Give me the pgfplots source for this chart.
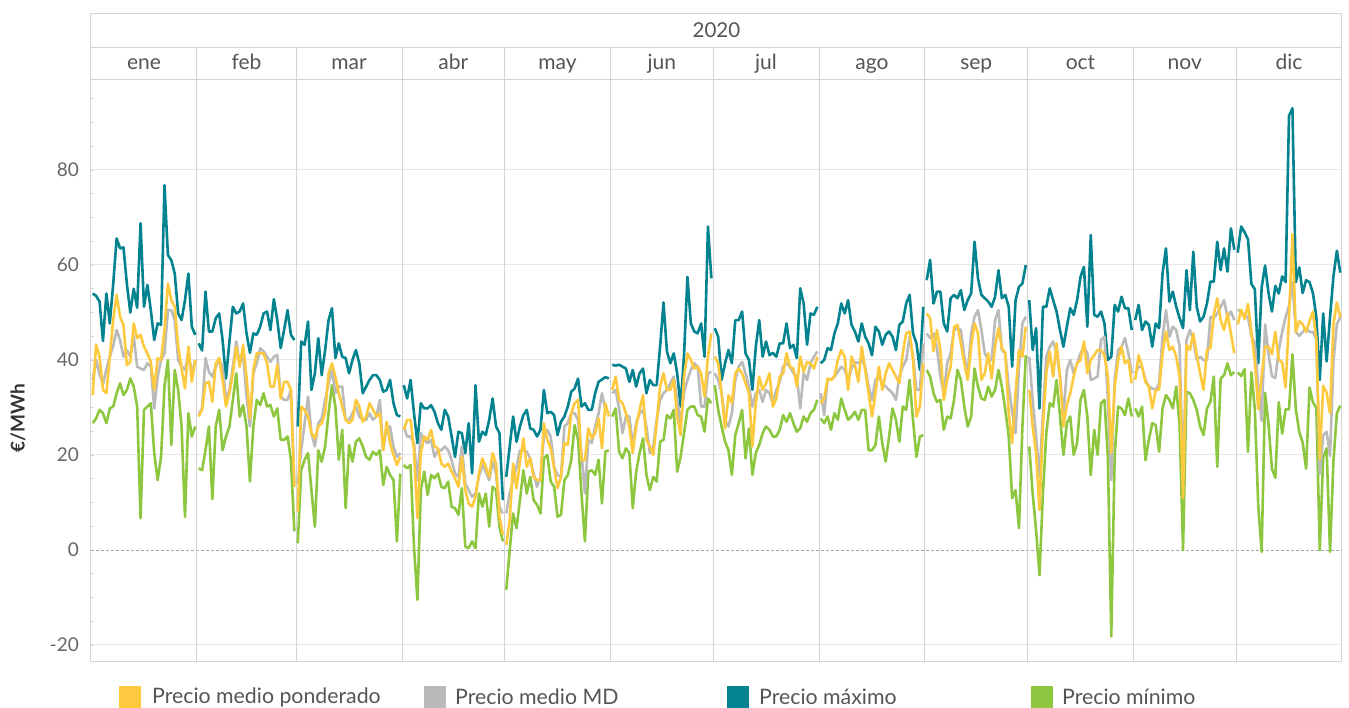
\documentclass[border=0pt]{standalone}
\usepackage{pgfplots}
\pgfplotsset{compat=1.18}
\usepackage{pgfplotstable}
\usepackage{fontspec}
\setmainfont{Lato}
\definecolor{pondCol}{HTML}{FDC93F}
\definecolor{mdCol}{HTML}{BABABA}
\definecolor{maxCol}{HTML}{03838F}
\definecolor{minCol}{HTML}{8DC63F}
\definecolor{frameCol}{HTML}{D4D4D4}
\definecolor{gridCol}{HTML}{E8E8E8}
\definecolor{labCol}{HTML}{666666}
\definecolor{headCol}{HTML}{555555}

\pgfplotstableread{
d pond md pmax pmin
1 32.6 35.8 54 26.7
2 43.2 40 53.5 27.7
3 40.7 37 52.3 29.5
4 33.7 35 44 28.8
5 33 38 54 26.7
6 40.7 40.7 47.7 29.8
7 48.4 43 56 30.2
8 53.7 46.3 65.6 33
9 49.1 44.2 63.5 35.1
10 47.4 40.7 63.7 32.6
11 38.9 42.1 56 33.7
12 39.6 40.7 50 36.1
13 47.7 45 55 34.4
14 44.6 38.6 51 30.2
15 45.3 38.2 68.8 6.7
16 42.8 37.9 51.2 29.5
17 41.4 39.3 55.8 30.2
18 39.6 38.6 50.5 30.9
19 33.7 29.8 44.2 20.4
20 40.4 36.5 47.7 14.7
21 40 40 47.4 19.6
22 46.3 41.4 76.8 34.4
23 56.1 50.5 62.1 40
24 52.6 50.5 61 22.1
25 51.2 48.4 58.2 37.9
26 42.8 40 49.8 33.7
27 38.2 38.6 48.4 26
28 34 37.9 52.6 7
29 42.8 41.4 58.2 28.8
30 35.4 37.2 47 23.9
31 40 40 45.3 26
31.5 nan nan nan nan
32 28.1 28.5 43.5 17.2
33 29.5 29.8 42 16.8
34 35.1 40.4 54.4 21
35 35.4 37.5 46 26
36 31.2 36.5 46 10.7
37 39.3 38.6 48.8 26
38 40.4 40 49.8 29.5
39 35.8 38.6 44.2 21
40 30.2 31.6 36.1 23.9
41 33 33.7 43.9 26
42 37.2 38.6 51.2 31.6
43 42.8 43.9 49.8 37.2
44 38.6 39.3 50.2 28.1
45 43.2 41.4 51.9 30.5
46 36.5 32.3 45.6 26
47 27.7 26 41.5 14.4
48 37.9 37.2 45.6 26
49 41.4 39.3 45.3 31.6
50 41.4 42.5 47 30.5
51 41.4 41.8 49.8 33
52 39.3 40.7 50.2 30.2
53 34.4 39.6 46.3 30.5
54 34.4 40.7 52.8 28.1
55 39 41.1 48.4 29.8
56 31.9 32.3 42.5 23.2
57 35.4 31.6 46.3 23.2
58 35.4 31.6 50.5 23.9
59 33.7 33.7 45.3 19
60 13.3 14 44.2 3.9
60.5 nan nan nan nan
61 8.1 14 26 1.4
62 30.2 21 43.9 16.8
63 29.5 26.7 43.2 19
64 28.1 32.3 48.1 20.4
65 24.6 24.6 33.7 12.6
66 23.5 21.8 37.2 4.9
67 26 26.7 44.6 21
68 26.7 27.7 36.8 18.6
69 28.8 31.6 42.1 21.8
70 37.2 35.1 48.4 28.8
71 39.3 37.9 50.9 34.7
72 36.5 33 40.4 30.2
73 33 34.4 43.5 19
74 30.2 34.4 40.7 25.3
75 27.4 27.4 40.4 8.8
76 26.7 27.4 37.2 22.1
77 27.4 28.8 40 18.6
78 31.6 30.2 42.1 22.8
79 30.2 28.1 39.3 23.5
80 27 27.4 33 21.8
81 28.1 27.4 34.4 19.6
82 30.9 28.8 35.8 19
83 29.5 27.4 36.8 20.7
84 28.1 28.1 36.8 20
85 28.8 31.6 35.8 21
86 21 21 33.3 13.7
87 27 26 33.7 17.5
88 22.5 26 35.8 15.8
89 20 21.8 30.9 14.7
90 17.9 19.6 28.4 1.8
91 19.6 20.4 28.1 16.1
91.5 nan nan nan nan
92 25.3 25.9 34.7 17.9
93 27.4 23.9 31.9 17.2
94 27.4 23.9 35.8 17.9
95 21 22.5 28.8 0.7
96 6.7 14.7 22.5 -10.5
97 20.4 24.6 30.9 12.6
98 23.9 23.2 29.8 16.5
99 23.2 22.5 29.8 11.6
100 25.3 23.2 30.5 15.8
101 21.8 19.6 29.1 15.1
102 21.4 21 26.7 16.1
103 18.2 21 25.3 13.3
104 17.5 21.8 29.5 13
105 18.2 21 28.1 14.4
106 16.5 18.9 23.9 9.1
107 15.1 16.1 19.6 8.8
108 13.3 15.4 24.9 7.4
109 19.6 21.8 24.6 13
110 12.6 14 20.4 0.7
111 9.8 12.6 26.7 0.4
112 9.1 11.2 16.1 1.8
113 11.2 11.9 34.7 0.4
114 16.1 15.4 22.8 11.9
115 19.3 17.9 24.9 9.1
116 17.5 16.5 24.2 11.9
117 15.4 14.7 27.4 4.9
118 20.4 18.6 31.9 13.3
119 18.2 16.1 26 12.6
120 7 9.1 24.6 4.9
121 3.2 7.7 10.5 1.8
121.5 nan nan nan nan
122 1.1 7.7 15.4 -8.4
123 6.3 11.9 21.8 0
124 18.2 14.7 28.1 7.7
125 13 17.5 22.8 4.6
126 18.6 21 26 10.5
127 23.5 21 28.4 16.8
128 17.5 20.7 29.5 11.9
129 19.3 19.3 25.6 15.4
130 15.4 16.1 25.3 10.5
131 14.7 13.3 23.9 9.5
132 14.7 15.4 25.3 7.7
133 26.7 23.9 33.7 19.3
134 23.2 25.3 28.8 20
135 21.4 23.9 29.1 14.4
136 17.2 17.5 28.4 13.3
137 13 15.8 24.2 7
138 15.4 15.4 27 7.4
139 22.5 26 28.1 14.7
140 22.1 26.7 30.2 15.8
141 28.8 28.8 33.3 18.9
142 30.9 28.8 34 26.3
143 31.6 27.4 36.1 23.2
144 18.9 20.4 30.2 11.9
145 18.9 11.9 30.9 1.8
146 25.6 23.2 29.5 16.5
147 23.5 22.5 29.5 16.8
148 24.6 26 33 15.8
149 27.7 28.8 35.4 19
150 21.4 33 35.9 9.8
151 30.9 29.5 36.4 20.7
152 28.1 28.8 36.1 21
152.5 nan nan nan nan
153 33.7 33 39 28.1
154 36.5 33.7 38.8 29.8
155 31.6 29.8 39 20.7
156 30.9 24.6 38.6 19.3
157 28.8 28.1 38.2 21.4
158 26 28.1 35.4 20.4
159 20.4 22.1 37.9 8.8
160 26 26.7 34.4 16.5
161 29.5 28.8 37.2 20.4
162 32.6 29.5 38.2 23.5
163 23.2 26 33 15.8
164 21.8 20.4 35.8 12.6
165 20 21.8 34.7 15.4
166 26.7 27.4 34.7 14.4
167 34.4 31.6 42.8 22.8
168 37.2 33 52.1 23.2
169 33.7 33.7 41.8 28.4
170 33.7 35.1 39.3 27.7
171 35.8 36.5 41.4 29.5
172 28.1 31.6 37.2 16.5
173 24.2 26.7 30.2 19.6
174 36.5 33 41 24.6
175 41.4 35.8 57.5 29.5
176 40 37.9 47.7 30.2
177 38.2 39.3 46 30.2
178 38.6 38.6 45.6 28.4
179 37.2 30.2 47.7 28.1
180 32.3 30.2 40.7 24.9
181 40.7 37.2 68.1 31.9
182 45.6 37.5 57.2 30.9
182.5 nan nan nan nan
183 40.7 37.2 46.7 34.7
184 39.3 35.8 44.9 29.5
185 33 33 35.8 26
186 25.6 27.4 39.3 22.8
187 32.6 26 42.1 21
188 30.9 28.8 39.3 15.8
189 37.2 35.8 48.4 24.2
190 38.2 38.6 48.4 26.7
191 37.2 39.6 50.2 29.5
192 35.1 37.2 41.4 19.3
193 33 34.4 40 25.6
194 21.8 30.2 33.7 15.8
195 30.9 33 42.8 20.4
196 36.5 33.7 48.4 22.1
197 33.7 31.2 40.7 24.6
198 35.1 33.7 43.9 26
199 37.2 33 41 25.3
200 30.2 30.9 41.5 23.9
201 31.9 33.7 40.7 23.9
202 36.5 35.4 43.5 25.3
203 37.2 38.6 43.5 28.4
204 41.4 39.3 47.7 27
205 38.6 38.6 42.5 28.8
206 38.2 37.2 43.2 26.7
207 34.4 36.5 40.4 24.9
208 40.7 29.8 55.1 25.6
209 37.5 37.2 51.9 28.1
210 39.6 35.8 43.2 27
211 39.3 39.3 49.8 28.8
212 38.2 40.7 49.5 29.5
213 40.7 41.8 51.2 31.6
213.5 nan nan nan nan
214 30.9 33 39.3 27.7
215 31.9 28.4 40 26.7
216 36.1 35.8 42.5 28.1
217 35.8 35.8 42.1 25.3
218 36.5 36.5 45.6 28.8
219 40 37.5 47.7 27.4
220 42.1 38.6 51.9 31.9
221 40.7 37.9 49.8 29.5
222 33.7 35.8 52.6 27.4
223 40.7 38.2 47.4 28.1
224 38.9 39.6 46 29.1
225 35.4 39.3 43.9 27.4
226 42.8 40 47.7 29.5
227 37.9 38.6 44.9 29.5
228 33 34.4 43.5 21
229 28.1 31.6 41 21
230 33 35.8 47 22.1
231 38.6 36.5 46 28.1
232 33.7 35.1 43.2 22.5
233 37.2 34.4 45.3 18.6
234 39.3 33.7 46 23.9
235 37.9 33 44.9 29.8
236 36.5 31.6 42.1 27.4
237 35.1 36.5 47.4 22.8
238 41.4 38.6 48.1 30.2
239 45.6 40 51.9 29.5
240 46 44.9 53.7 35.8
241 40 40.7 45.6 27.4
242 28.1 33.7 43.5 19.6
243 30.2 33.7 37.9 23.9
244 39.3 43.5 51.2 24.2
244.5 nan nan nan nan
245 49.8 45.6 56.8 37.9
246 48.8 44.6 61.1 36.5
247 41.8 45.6 51.9 33
248 46.3 42.5 54.4 31.2
249 42.1 36.5 54.4 31.6
250 31.6 33 47.7 25.3
251 35.8 39.3 46 28.1
252 38.6 41.4 53 27.7
253 47 46.3 53.7 31.6
254 47.4 46.7 53 37.9
255 43.5 46.3 54.7 35.8
256 39.3 40.7 50.5 30.2
257 35.8 37.2 52.6 26
258 42.8 45.6 54 28.1
259 47.7 49.1 64.9 38.2
260 45.6 50.5 57.2 34.4
261 35.8 46.3 53.7 31.9
262 37.2 41.4 53 31.6
263 41.4 40 52.3 34.4
264 36.1 40 51.2 32.3
265 42.8 48.4 53.3 33.7
266 46.7 50.5 58.9 37.9
267 42.5 42.1 53 34.4
268 41.4 41.4 53.7 29.5
269 28.8 34.4 51.2 23.9
270 22.5 29.1 38.6 10.9
271 33 24.6 52.6 12.6
272 42.1 38.6 55.4 4.6
273 40.7 47.7 56.1 26
274 47 49.1 60 41
274.5 nan nan nan nan
275 33.7 40.7 52.6 21.8
276 26 31.6 42.1 11.9
277 20.4 23.9 46.7 4.2
278 8.4 15.4 29.8 -5.3
279 26 28.8 51.2 11.9
280 37.2 40.7 51.2 24.6
281 41.8 42.8 55.1 30.9
282 36.5 43.9 52.6 30.2
283 43.5 41.4 50.2 35.8
284 36.5 36.5 46.3 28.1
285 26 28.1 42.8 20
286 30.5 37.9 47 26.7
287 33 40 50.9 28.1
288 36.5 37.2 49.5 20
289 39.3 39.3 52.6 22.5
290 40 41.4 57.5 31.6
291 43.9 42.8 59.6 33.7
292 37.2 41.4 47 28.1
293 40 35.8 66.3 15.8
294 41 36.1 49.5 25.3
295 42.1 36.5 49.1 20
296 42.1 44.2 50.2 30.9
297 41 44.9 47.7 31.6
298 36.5 31.6 40 19.6
299 20.4 14.7 40.7 -18.2
300 34.4 35.8 51.6 20
301 40 42.1 50.2 30.2
302 42.8 42.8 53.3 29.8
303 39.3 44.6 50.9 28.4
304 40 41.4 50.9 31.9
305 35.1 37.2 46.3 28.1
305.5 nan nan nan nan
306 35.8 37.2 48.4 29.8
307 41 38.6 51.6 28.1
308 38.6 38.6 46.3 30.2
309 35.4 35.8 48.1 18.9
310 34.4 34.4 47.4 23.2
311 29.8 34 42.8 26.7
312 33.7 33.7 47.7 26.3
313 33.7 35.1 46.7 20.7
314 41.4 44.9 58.2 29.8
315 46 50.5 63.5 32.6
316 42.1 44.9 52.3 31.6
317 42.8 47 54.4 29.8
318 40.7 46.3 51.2 34.4
319 36.5 42.8 48.8 26
320 10.9 14 46.7 0
321 43.2 44.2 58.9 33.3
322 42.1 46.3 50.5 33
323 45.6 44.2 62.8 31.6
324 41 40 51.2 29.5
325 37.2 40.7 48.1 26
326 33.7 40 49.1 24.2
327 42.1 40 51.9 29.8
328 42.5 49.1 56.5 31.2
329 49.5 48.8 56.5 36.5
330 53 49.8 64.9 17.5
331 48.4 51.2 58.9 36.1
332 46.3 52.6 63.5 36.8
333 49.8 49.1 58.6 39.3
334 45.6 50.2 67.7 36.8
335 41.4 48.4 63.2 37.5
335.5 nan nan nan nan
336 47.5 50.6 62.6 37.4
337 50.6 50.2 68.1 36.6
338 48.6 49.4 66.9 38.1
339 51.8 49 65.4 20.6
340 45.9 45.1 56 37.4
341 39.7 43.5 54.9 29.6
342 29.6 34.2 39.3 9.3
343 36.6 27.2 55.3 -0.4
344 42.8 47.5 59.9 33.1
345 42.8 41.2 54.1 26.5
346 41.2 36.6 50.2 17.1
347 45.9 36.2 55.6 15.2
348 40.1 42 54 31.1
349 39.5 45.9 57.6 24.5
350 34.2 49 56.4 29.6
351 49 51.4 91.4 29.6
352 66.5 56.4 93 41.2
353 45.9 45.9 56.4 29.6
354 48.2 45.1 59.5 24.9
355 47.5 45.9 54.1 22.6
356 45.9 46.7 56.8 17.1
357 48.2 45.9 56.4 34.2
358 50.2 45.9 54.1 31.1
359 44.4 44.4 49 29.9
360 19.1 16 35.8 0
361 34.6 24.1 49.8 19.5
362 33.1 24.9 39.7 21.4
363 28.8 19.8 49 -0.4
364 47.5 39.7 57.6 18.7
365 52.1 47.5 63 28.8
366 49 49 58.4 30.4
}\datatable

\begin{document}
\begin{tikzpicture}[x=1pt,y=1pt]
\begin{axis}[
  at={(0pt,0pt)}, anchor=south west,
  scale only axis, width=1251pt, height=582pt,
  xmin=0.5, xmax=366.5, ymin=-23.58, ymax=98.95,
  clip=false,
  unbounded coords=jump,
  axis line style={draw=frameCol, line width=1pt},
  xtick=\empty,
  ytick={-20,0,20,40,60,80},
  yticklabels={-20,0,20,40,60,80},
  minor ytick={-20,-15,...,95},
  ytick pos=left,
  tick align=inside,
  major tick length=0pt,
  minor tick length=3.5pt,
  minor tick style={draw=frameCol, line width=0.8pt},
  yticklabel style={font=\fontsize{19}{22}\selectfont, text=labCol, anchor=east, inner sep=0pt, xshift=-12pt},
]
% horizontal grid
\foreach \yy in {-20,20,40,60,80}{
  \edef\tmp{\noexpand\draw[gridCol, line width=1pt] (axis cs:0.5,\yy) -- (axis cs:366.5,\yy);}\tmp
}
\draw[black!35, line width=0.9pt, dash pattern=on 3pt off 2pt] (axis cs:0.5,0) -- (axis cs:366.5,0);
% month separators (plot + month header row)
\foreach \bb in {31.5,60.5,91.5,121.5,152.5,182.5,213.5,244.5,274.5,305.5,335.5}{
  \edef\tmp{\noexpand\draw[frameCol, line width=1pt] (axis cs:\bb,-23.58) -- (axis cs:\bb,105.89);}\tmp
}
% header box
\draw[frameCol, line width=1pt] (axis cs:0.5,98.95) rectangle (axis cs:366.5,113.05);
\draw[frameCol, line width=1pt] (axis cs:0.5,105.89) -- (axis cs:366.5,105.89);
\node[font=\fontsize{20.5}{24}\selectfont, text=headCol] at (axis cs:183.5,109.47) {2020};
\foreach \mx/\mn in {16/ene,46/feb,76/mar,106.5/abr,137/may,167.5/jun,198/jul,229/ago,259.5/sep,290/oct,320.5/nov,351/dic}{
  \edef\tmp{\noexpand\node[anchor=base, inner sep=0pt, font=\noexpand\fontsize{21}{24}\noexpand\selectfont, text=headCol] at (axis cs:\mx,101.1) {\mn};}\tmp
}
\addplot[minCol, line width=2.6pt, line join=round, mark=none] table[x=d, y=pmin] {\datatable};
\addplot[maxCol, line width=2.6pt, line join=round, mark=none] table[x=d, y=pmax] {\datatable};
\addplot[mdCol, line width=2.6pt, line join=round, mark=none] table[x=d, y=md] {\datatable};
\addplot[pondCol, line width=2.6pt, line join=round, mark=none] table[x=d, y=pond] {\datatable};
\end{axis}
% y label
\node[rotate=90, font=\bfseries\fontsize{19}{22}\selectfont, text=black!80] at (-73pt,244pt) {€/MWh};
% legend
\fill[pondCol] (28pt,-46pt) rectangle (50pt,-24pt);
\node[anchor=west, inner sep=0pt, font=\fontsize{21.3}{24}\selectfont, text=headCol] at (61pt,-35pt) {Precio medio ponderado};
\fill[mdCol] (333pt,-46pt) rectangle (355pt,-24pt);
\node[anchor=west, inner sep=0pt, font=\fontsize{21.3}{24}\selectfont, text=headCol] at (364pt,-35pt) {Precio medio MD};
\fill[maxCol] (636pt,-46pt) rectangle (658pt,-24pt);
\node[anchor=west, inner sep=0pt, font=\fontsize{21.3}{24}\selectfont, text=headCol] at (668pt,-35pt) {Precio máximo};
\fill[minCol] (940pt,-46pt) rectangle (962pt,-24pt);
\node[anchor=west, inner sep=0pt, font=\fontsize{21.3}{24}\selectfont, text=headCol] at (971pt,-35pt) {Precio mínimo};
\pgfresetboundingbox
\useasboundingbox (-91pt,-46pt) rectangle (1258pt,662pt);
\end{tikzpicture}
\end{document}
